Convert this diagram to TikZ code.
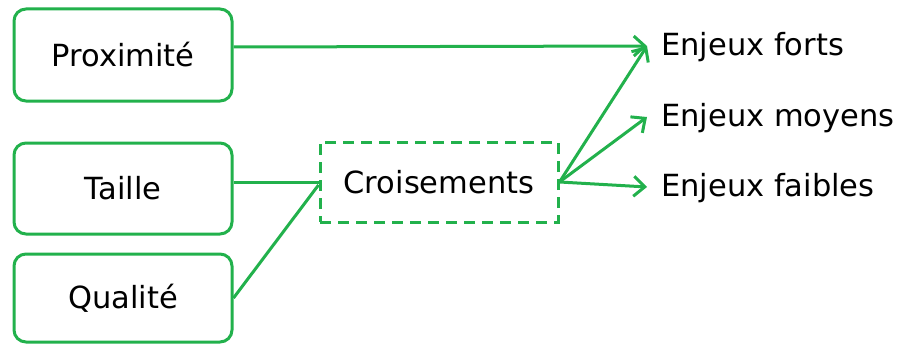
\documentclass[tikz,border=0pt]{standalone}
\usepackage{fontspec}
\setmainfont{DejaVu Sans}
\usetikzlibrary{arrows.meta}
\definecolor{lgreen}{RGB}{34,177,76}
\tikzset{
  txt/.style={font=\fontsize{30.5}{33}\selectfont},
  box/.style={txt, draw=lgreen, line width=3pt, rounded corners=12pt, minimum width=218pt, inner sep=0pt},
  cbox/.style={txt, draw=lgreen, line width=3pt, dash pattern=on 11pt off 7pt, minimum width=238pt, minimum height=80pt, inner sep=0pt},
  lab/.style={txt, anchor=west, inner xsep=14pt, inner ysep=0pt, text height=24pt, text depth=5pt},
  conn/.style={draw=lgreen, line width=3pt},
  arr/.style={conn, -{Straight Barb[length=11pt,width=20pt,line width=3pt]}}
}
\begin{document}
\begin{tikzpicture}[x=1pt,y=-1pt]
\useasboundingbox (0,0) rectangle (904,345);
\node[box, minimum height=92pt] (prox) at (123,55) {Proximité};
\node[box, minimum height=91pt] (taille) at (123,188.5) {Taille};
\node[box, minimum height=88pt] (qual) at (123,298) {Qualité};
\node[cbox] (cro) at (439,182) {Croisements};
\node[lab] (forts) at (647,46) {Enjeux forts};
\node[lab] (moy) at (647,117) {Enjeux moyens};
\node[lab] (faib) at (647,187) {Enjeux faibles};
\draw[conn] (taille.east |- cro.west) -- (cro.west);
\draw[conn] (qual.east) -- ([yshift=-3pt]cro.west);
\draw[arr] ([yshift=8pt]prox.east) -- (forts.west);
\draw[arr] (cro.east) -- (forts.west);
\draw[arr] (cro.east) -- (moy.west);
\draw[arr] (cro.east) -- (faib.west);
\end{tikzpicture}
\end{document}
